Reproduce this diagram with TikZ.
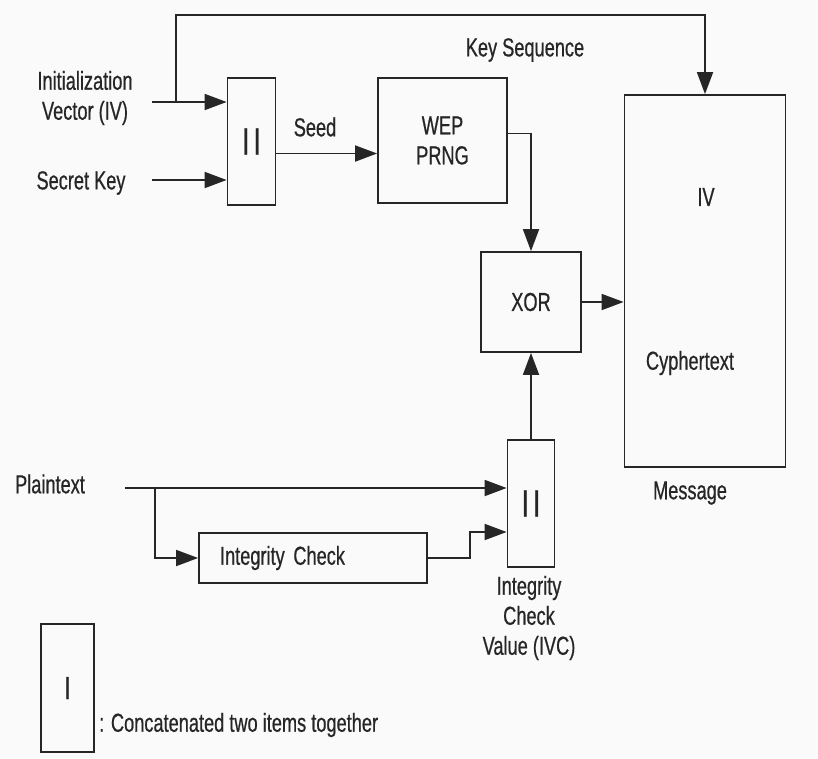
\documentclass[tikz,border=0pt]{standalone}
\usepackage{fontspec}
\setmainfont{Liberation Sans}[FakeStretch=0.7, FakeBold=0.6]
\usepackage{tikz}
\usetikzlibrary{arrows.meta, positioning}
\definecolor{inkGray}{HTML}{262626}
\definecolor{paperGray}{HTML}{FAFAFA}
\tikzset{
  blockbox/.style={
    draw=inkGray, line width=1.8pt, text=inkGray,
    align=center, inner sep=0pt
  },
  lbl/.style={text=inkGray, align=center, inner sep=0pt},
  arr/.style={-{Triangle[length=22pt,width=16pt]}, line width=1.8pt, draw=inkGray}
}

\begin{document}
\begin{tikzpicture}[
  x=1pt, y=-1pt,
  font=\fontsize{26}{30}\selectfont,
  catbox/.style={blockbox, minimum width=48pt, minimum height=127pt,
    font=\fontsize{38}{38}\selectfont},
  procbox/.style={blockbox, minimum width=#1, minimum height=125pt}
]
\fill[paperGray] (0,0) rectangle (818,758);
\useasboundingbox (0,0) rectangle (818,758);

% Inputs
\node[lbl] (ivtext) at (85,98) {Initialization\\Vector (IV)};
\node[lbl] (sktext) at (81,183) {Secret Key};
\coordinate (ivin) at (152,102);
\coordinate (ivbr) at (176,102);
\coordinate (skin) at (152,180);
\coordinate (top) at (705,15);

% Key path
\node[catbox] (cat1) at (251.5,141.5) {I\hspace{4pt}I};
\node[procbox=129pt] (wep) at (442.5,140.5) {WEP\\PRNG};
\node[lbl] (seedtext) at (315,127) {Seed};
\node[lbl] (keyseq) at (525,50) {Key Sequence};
\node[blockbox, minimum width=100pt, minimum height=100pt] (xor) at (531,302) {XOR};

% Message
\node[blockbox, minimum width=161pt, minimum height=372pt] (msg) at (705,281) {};
\node[lbl] (ivpart) at (706,197) {IV};
\node[lbl] (cypher) at (690,363) {Cyphertext};
\node[lbl] (msgtext) at (690,493) {Message};

% Plaintext path
\node[lbl] (pttext) at (50,484) {Plaintext};
\coordinate (ptin) at (125,488);
\coordinate (ptbr) at (155,488);
\node[blockbox, minimum width=228pt, minimum height=50pt, text width=186pt, align=left] (ic) at (313,558) {Integrity Check};
\coordinate (icbend) at (470,532);
\node[catbox, minimum width=47pt] (cat2) at (531,503.5) {I\hspace{4pt}I};
\node[lbl] (ivctext) at (529,618) {Integrity\\Check\\Value (IVC)};

% Legend
\node[blockbox, minimum width=53pt, minimum height=128pt, font=\fontsize{32}{32}\selectfont] (legbox) at (67.5,688) {I};
\node[lbl, anchor=west] (legtext) at (99,725) {: Concatenated two items together};

% Connections
\draw[arr] (ivin) -- (ivin -| cat1.west);
\draw[arr] (ivbr) |- (top) -- (msg.north);
\draw[arr] (skin) -- (skin -| cat1.west);
\draw[arr] ([yshift=-12pt]cat1.east) -- ([yshift=-12pt]cat1.east -| wep.west);
\draw[arr] ([yshift=7pt]wep.east) -| (xor.north);
\draw[arr] (xor.east) -- (xor.east -| msg.west);
\draw[arr] (ptin) -- (ptin -| cat2.west);
\draw[arr] (ptbr) |- (ic.west);
\draw[arr] (ic.east) -| (icbend) -- (icbend -| cat2.west);
\draw[arr] (cat2.north) -- (xor.south);

\end{tikzpicture}
\end{document}
